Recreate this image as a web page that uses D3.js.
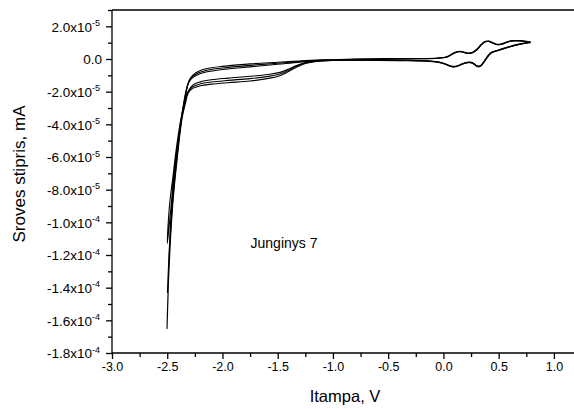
<!DOCTYPE html>
<html>
<head>
<meta charset="utf-8">
<script src="https://cdn.jsdelivr.net/npm/d3@7"></script>
<style>
  body { margin: 0; background: #fff; }
  svg { display: block; }
  text { font-family: "Liberation Sans", Arial, Helvetica, sans-serif; fill: #000; }
</style>
</head>
<body>
<svg id="chart" width="574" height="409"></svg>
<script>
// Cyclic voltammogram, three scans. Each point: [potential V, current in 1e-5 mA].
// Each scan starts at +0.79 V, runs cathodic to -2.5 V and returns.
const cycle1 = [
  [0.79, 1.04], [0.74, 0.99], [0.68, 0.91], [0.60, 0.77], [0.53, 0.62], [0.47, 0.50],
  [0.43, 0.40], [0.40, 0.18], [0.37, -0.12], [0.34, -0.38], [0.32, -0.44], [0.30, -0.40],
  [0.27, -0.25], [0.24, -0.19], [0.20, -0.22], [0.15, -0.35], [0.11, -0.44], [0.08, -0.45],
  [0.05, -0.39], [0.01, -0.27], [-0.05, -0.17], [-0.15, -0.11], [-0.40, -0.08], [-0.70, -0.06],
  [-1.00, -0.07], [-1.15, -0.11], [-1.25, -0.22], [-1.33, -0.40], [-1.41, -0.64], [-1.48, -0.82],
  [-1.57, -0.93], [-1.75, -1.06], [-1.95, -1.17], [-2.10, -1.27], [-2.20, -1.40], [-2.27, -1.60],
  [-2.31, -1.98], [-2.34, -2.6], [-2.38, -3.8], [-2.42, -5.6], [-2.45, -7.3], [-2.475, -8.65],
  [-2.49, -9.9], [-2.50, -11.3],
  [-2.485, -10.4], [-2.465, -9.0], [-2.44, -7.2], [-2.41, -5.6], [-2.37, -3.7], [-2.34, -2.5],
  [-2.32, -1.75], [-2.30, -1.28], [-2.27, -1.00], [-2.22, -0.76], [-2.15, -0.60], [-2.00, -0.45],
  [-1.75, -0.30], [-1.50, -0.20], [-1.30, -0.12], [-1.10, -0.05], [-0.80, -0.01], [-0.50, 0.02],
  [-0.20, 0.03], [-0.05, 0.06], [0.03, 0.14], [0.08, 0.32], [0.12, 0.44], [0.15, 0.47],
  [0.18, 0.43], [0.22, 0.37], [0.26, 0.40], [0.30, 0.58], [0.34, 0.88], [0.38, 1.08],
  [0.41, 1.10], [0.45, 0.99], [0.49, 0.90], [0.53, 0.94], [0.58, 1.06], [0.63, 1.13],
  [0.69, 1.13], [0.75, 1.09], [0.79, 1.04]
];
const cycle2 = [
  [0.79, 1.02], [0.74, 0.97], [0.68, 0.89], [0.60, 0.75], [0.53, 0.60], [0.47, 0.48],
  [0.43, 0.37], [0.40, 0.14], [0.37, -0.15], [0.34, -0.40], [0.32, -0.46], [0.30, -0.42],
  [0.27, -0.27], [0.24, -0.21], [0.20, -0.24], [0.15, -0.37], [0.11, -0.46], [0.08, -0.47],
  [0.05, -0.41], [0.01, -0.29], [-0.05, -0.19], [-0.15, -0.12], [-0.40, -0.09], [-0.70, -0.07],
  [-1.00, -0.08], [-1.15, -0.13], [-1.25, -0.25], [-1.33, -0.45], [-1.41, -0.72], [-1.48, -0.92],
  [-1.57, -1.05], [-1.75, -1.20], [-1.95, -1.31], [-2.10, -1.41], [-2.20, -1.52], [-2.27, -1.70],
  [-2.31, -2.02], [-2.34, -2.7], [-2.37, -3.6], [-2.41, -5.9], [-2.45, -8.6], [-2.475, -11.1],
  [-2.49, -12.9], [-2.498, -14.3],
  [-2.488, -12.6], [-2.468, -10.0], [-2.44, -7.6], [-2.415, -5.9], [-2.375, -3.8], [-2.345, -2.55],
  [-2.325, -1.85], [-2.305, -1.40], [-2.275, -1.10], [-2.22, -0.86], [-2.15, -0.70], [-2.00, -0.55],
  [-1.75, -0.39], [-1.50, -0.26], [-1.30, -0.15], [-1.10, -0.07], [-0.80, -0.02], [-0.50, 0.01],
  [-0.20, 0.02], [-0.05, 0.05], [0.03, 0.12], [0.08, 0.30], [0.12, 0.43], [0.15, 0.46],
  [0.18, 0.42], [0.22, 0.35], [0.26, 0.38], [0.30, 0.55], [0.34, 0.86], [0.38, 1.06],
  [0.41, 1.08], [0.45, 0.97], [0.49, 0.88], [0.53, 0.92], [0.58, 1.04], [0.63, 1.11],
  [0.69, 1.11], [0.75, 1.07], [0.79, 1.02]
];
const cycle3 = [
  [0.79, 1.01], [0.74, 0.96], [0.68, 0.88], [0.60, 0.74], [0.53, 0.59], [0.47, 0.47],
  [0.43, 0.35], [0.40, 0.12], [0.37, -0.17], [0.34, -0.42], [0.32, -0.48], [0.30, -0.44],
  [0.27, -0.29], [0.24, -0.22], [0.20, -0.25], [0.15, -0.38], [0.11, -0.47], [0.08, -0.48],
  [0.05, -0.42], [0.01, -0.30], [-0.05, -0.20], [-0.15, -0.13], [-0.40, -0.10], [-0.70, -0.08],
  [-1.00, -0.09], [-1.15, -0.15], [-1.25, -0.28], [-1.33, -0.50], [-1.41, -0.80], [-1.48, -1.02],
  [-1.57, -1.17], [-1.75, -1.35], [-1.95, -1.45], [-2.10, -1.54], [-2.20, -1.64], [-2.27, -1.80],
  [-2.31, -2.08], [-2.335, -2.7], [-2.365, -3.6], [-2.41, -6.1], [-2.45, -8.9], [-2.475, -11.6],
  [-2.49, -13.8], [-2.498, -15.4], [-2.502, -16.5],
  [-2.493, -14.6], [-2.478, -11.4], [-2.45, -8.2], [-2.42, -6.2], [-2.38, -4.0], [-2.35, -2.65],
  [-2.33, -1.95], [-2.31, -1.50], [-2.28, -1.20], [-2.22, -0.95], [-2.15, -0.80], [-2.00, -0.64],
  [-1.75, -0.48], [-1.50, -0.32], [-1.30, -0.19], [-1.10, -0.09], [-0.80, -0.03], [-0.50, 0.00],
  [-0.20, 0.02], [-0.05, 0.05], [0.03, 0.11], [0.08, 0.29], [0.12, 0.42], [0.15, 0.45],
  [0.18, 0.41], [0.22, 0.34], [0.26, 0.37], [0.30, 0.54], [0.34, 0.84], [0.38, 1.05],
  [0.41, 1.07], [0.45, 0.96], [0.49, 0.87], [0.53, 0.91], [0.58, 1.03], [0.63, 1.10],
  [0.69, 1.10], [0.75, 1.06], [0.79, 1.01]
];
const scans = [cycle1, cycle2, cycle3];

// Axis ticks and labels
const xTicks = [-3.0, -2.5, -2.0, -1.5, -1.0, -0.5, 0.0, 0.5, 1.0];
const xTickLabels = ["-3.0", "-2.5", "-2.0", "-1.5", "-1.0", "-0.5", "0.0", "0.5", "1.0"];
const yTicks = [2, 0, -2, -4, -6, -8, -10, -12, -14, -16, -18];       // in 1e-5 mA
const yTickMantissas = ["2.0", "0.0", "-2.0", "-4.0", "-6.0", "-8.0", "-1.0", "-1.2", "-1.4", "-1.6", "-1.8"];
const yTickExponents = ["-5", "", "-5", "-5", "-5", "-5", "-4", "-4", "-4", "-4", "-4"];
const xTitle = "Itampa, V";
const yTitle = "Sroves stipris, mA";
const annotation = "Junginys 7";

const svg = d3.select("#chart");
const plotLeft = 112, plotTop = 10, plotRight = 576, plotBottom = 353;

const x = d3.scaleLinear().domain([-3.0, 1.2]).range([plotLeft, plotRight]);
const y = d3.scaleLinear().domain([-18, 3]).range([plotBottom, plotTop]);

// frame (top and right edges)
svg.append("path")
  .attr("d", `M${plotLeft},${plotTop}H${plotRight}V${plotBottom}`)
  .attr("fill", "none").attr("stroke", "#000").attr("stroke-width", 1.3);

// minor ticks
const xMinor = d3.range(-2.75, 1.2, 0.5);
const yMinor = d3.range(-17, 4, 2);
svg.append("g").attr("transform", `translate(0,${plotBottom})`)
  .call(d3.axisBottom(x).tickValues(xMinor).tickSize(4).tickSizeOuter(0).tickFormat(() => ""))
  .call(g => g.select(".domain").remove())
  .selectAll("line").attr("stroke-width", 1.3);
svg.append("g").attr("transform", `translate(${plotLeft},0)`)
  .call(d3.axisLeft(y).tickValues(yMinor).tickSize(4).tickSizeOuter(0).tickFormat(() => ""))
  .call(g => g.select(".domain").remove())
  .selectAll("line").attr("stroke-width", 1.3);

// major x axis
const xAxis = svg.append("g").attr("transform", `translate(0,${plotBottom})`)
  .call(d3.axisBottom(x).tickValues(xTicks).tickSize(6).tickSizeOuter(0)
    .tickFormat((d, i) => xTickLabels[i]).tickPadding(3));
xAxis.select(".domain").attr("d", `M${plotLeft},0H${plotRight}`).attr("stroke-width", 1.3);
xAxis.selectAll("line").attr("stroke-width", 1.3);
xAxis.selectAll("text").attr("font-size", 12.5).style("font-family", "Liberation Sans, Arial, sans-serif");

// major y axis, labels with superscript exponents
const yAxis = svg.append("g").attr("transform", `translate(${plotLeft},0)`)
  .call(d3.axisLeft(y).tickValues(yTicks).tickSize(6).tickSizeOuter(0).tickFormat(() => ""));
yAxis.select(".domain").attr("d", `M0,${plotTop}V${plotBottom}`).attr("stroke-width", 1.3);
yAxis.selectAll("line").attr("stroke-width", 1.3);
yAxis.selectAll(".tick").each(function (d, i) {
  const t = d3.select(this).select("text")
    .attr("x", -12).attr("dy", "0.35em").attr("font-size", 13.5)
    .attr("text-anchor", "end").style("font-family", "Liberation Sans, Arial, sans-serif");
  if (yTickExponents[i]) {
    t.append("tspan").text(yTickMantissas[i] + "x10");
    t.append("tspan").text(yTickExponents[i]).attr("font-size", 9).attr("dy", "-0.6em");
  } else {
    t.text(yTickMantissas[i]).attr("x", -10);
  }
});

// scans
const line = d3.line().x(d => x(d[0])).y(d => y(d[1])).curve(d3.curveCatmullRom.alpha(0.5));
svg.append("g").selectAll("path").data(scans).join("path")
  .attr("d", line)
  .attr("fill", "none").attr("stroke", "#000").attr("stroke-width", 1.1)
  .attr("stroke-linejoin", "round");

// titles
svg.append("text").attr("x", 345).attr("y", 402).attr("text-anchor", "middle")
  .attr("font-size", 16.5).text(xTitle);
svg.append("text").attr("transform", "translate(25,174) rotate(-90)").attr("text-anchor", "middle")
  .attr("font-size", 17).text(yTitle);
svg.append("text").attr("x", 284).attr("y", 248).attr("text-anchor", "middle")
  .attr("font-size", 14).text(annotation);
</script>
</body>
</html>
